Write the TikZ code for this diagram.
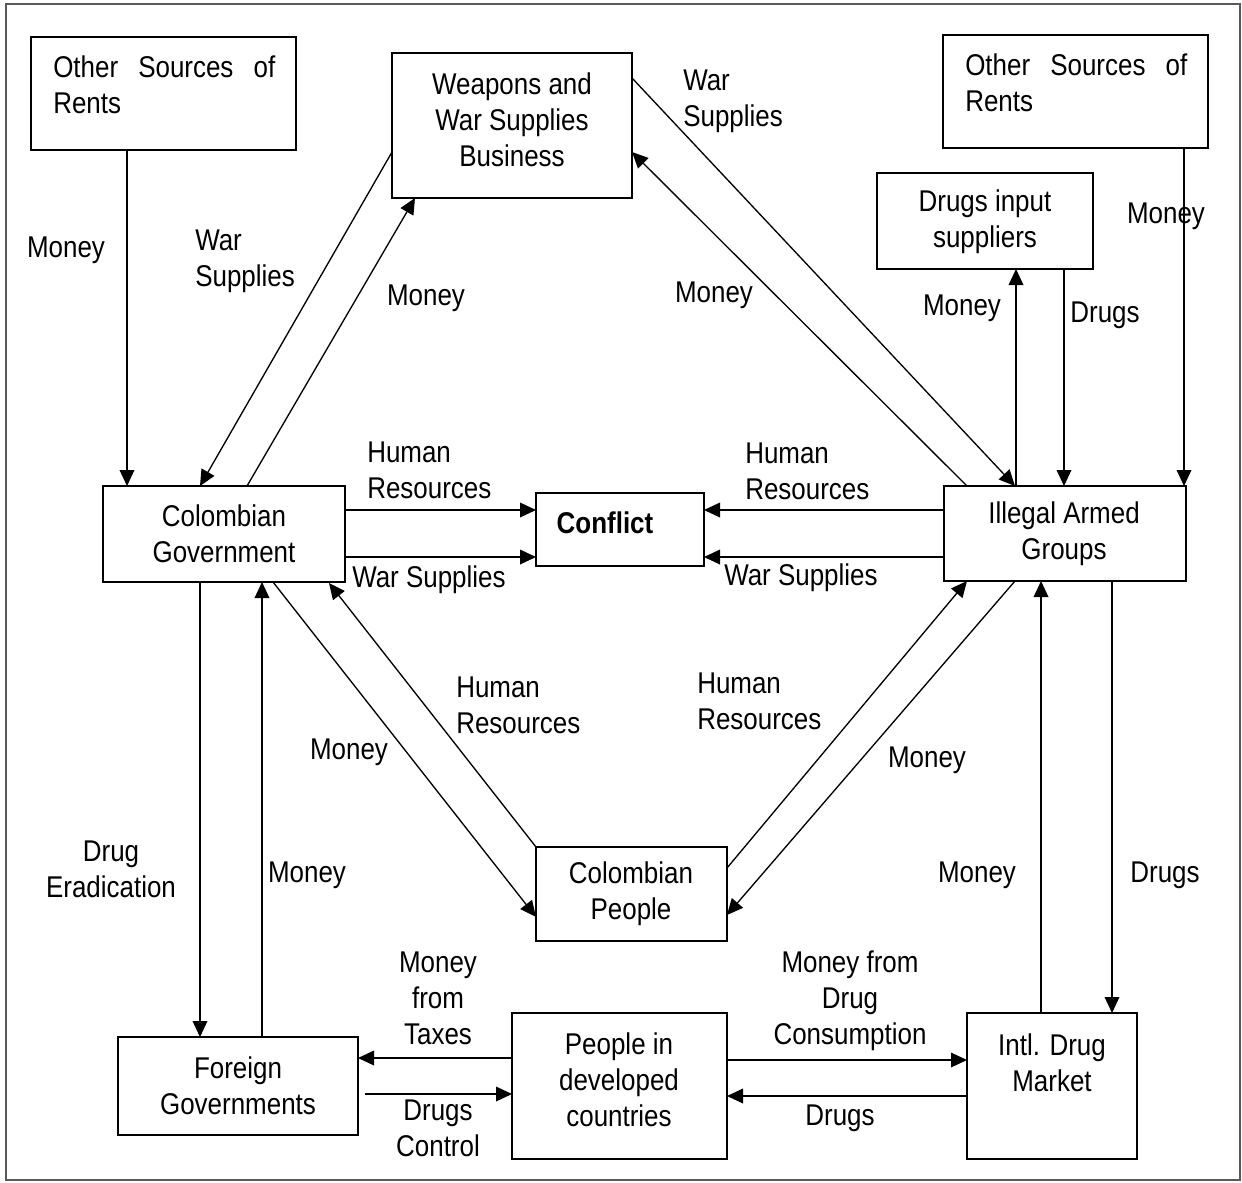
\documentclass[tikz,border=0pt]{standalone}
\usepackage{fontspec}
\setmainfont{Liberation Sans}[FakeStretch=0.865]
\usetikzlibrary{arrows.meta,calc}
\begin{document}
\begin{tikzpicture}[x=0.75pt,y=-0.75pt,
  box/.style args={#1/#2}{draw, line width=1.3pt, minimum width=#1*0.75pt, minimum height=#2*0.75pt, inner sep=0pt, outer sep=0pt},
  lbl/.style={inner sep=0pt, align=center, font=\fontsize{22.5pt}{27pt}\selectfont},
  lbll/.style={lbl, align=left, anchor=west},
  arr/.style={-{Triangle[length=12pt,width=11pt]}, line width=1pt},
  ln/.style={line width=1pt}]
\path[use as bounding box] (0,0) rectangle (1242,1182);
\draw[gray!70!black, line width=1.3pt] (6,4) rectangle (1240,1180);

% boxes
\node[box=265/113] (osl) at (163.5,93.5) {};
\node[box=240/145] (wpn) at (512,125.5) {};
\node[box=265/113] (osr) at (1075.5,91.5) {};
\node[box=216/96] (dis) at (985,221) {};
\node[box=242/96] (cg) at (224,534) {};
\node[box=168/73] (cfl) at (620,529.5) {};
\node[box=242/95] (iag) at (1065,533.5) {};
\node[box=191/94] (cp) at (631.5,894) {};
\node[box=240/98] (fg) at (238,1086) {};
\node[box=215/146] (pdc) at (619.5,1086) {};
\node[box=170/146] (idm) at (1052,1086) {};

% box texts
\node[lbll] (toslt) at (53,85) {\makebox[166.5pt][s]{Other Sources of}\\Rents};
\node[lbl] (twpn) at (512,120) {Weapons and\\War Supplies\\Business};
\node[lbll] (tosrt) at (965,83) {\makebox[166.5pt][s]{Other Sources of}\\Rents};
\node[lbl] (tdis) at (985,222) {Drugs input\\suppliers};
\node[lbl] (tcg) at (224,534) {Colombian\\Government};
\node[lbl] (tcfl) at (605,523) {\bfseries Conflict};
\node[lbl] (tiag) at (1064,534) {Illegal Armed\\Groups};
\node[lbl] (tcp) at (631,894) {Colombian\\People};
\node[lbl] (tfg) at (238,1086) {Foreign\\Governments};
\node[lbl] (tpdc) at (619,1080) {People in\\developed\\countries};
\node[lbl] (tidm) at (1052,1063) {Intl. Drug\\Market};

% connectors
\draw[arr] ($(osl.south west)+(96,0)$) -- ($(cg.north west)+(24,0)$);
\draw[arr] ($(wpn.north west)+(0,99)$) -- ($(cg.north west)+(97,0)$);
\draw[arr] ($(cg.north west)+(144,0)$) -- ($(wpn.south west)+(23,0)$);
\draw[arr] ($(wpn.north east)+(0,25)$) -- ($(iag.north west)+(71,0)$);
\draw[arr] ($(iag.north west)+(23,0)$) -- ($(wpn.north east)+(0,99)$);
\draw[arr] ($(iag.north west)+(72,0)$) -- ($(dis.south west)+(139,0)$);
\draw[arr] ($(dis.south west)+(187,0)$) -- ($(iag.north west)+(120,0)$);
\draw[arr] ($(osr.south west)+(241,0)$) -- ($(iag.north west)+(240,0)$);
\draw[arr] ($(cg.north east)+(0,24)$) -- ($(cfl.north west)+(0,17)$);
\draw[arr] ($(cg.north east)+(0,71)$) -- ($(cfl.north west)+(0,64)$);
\draw[arr] ($(iag.north west)+(0,24)$) -- ($(cfl.north east)+(0,17)$);
\draw[arr] ($(iag.north west)+(0,71)$) -- ($(cfl.north east)+(0,64)$);
\draw[arr] ($(cg.south west)+(97,0)$) -- ($(fg.north west)+(82,0)$);
\draw[arr] ($(fg.north west)+(144,0)$) -- ($(cg.south west)+(159,0)$);
\draw[arr] ($(cg.south west)+(170,0)$) -- ($(cp.north west)+(0,70)$);
\draw[arr] (cp.north west) -- ($(cg.south west)+(226,1)$);
\draw[arr] ($(cp.north east)+(0,21)$) -- ($(iag.south west)+(23,0)$);
\draw[arr] ($(iag.south west)+(71,0)$) -- ($(cp.north east)+(0,68)$);
\draw[arr] ($(idm.north west)+(74,0)$) -- ($(iag.south west)+(97,0)$);
\draw[arr] ($(iag.south west)+(168,0)$) -- ($(idm.north west)+(145,0)$);
\draw[arr] ($(pdc.north west)+(0,45)$) -- ($(fg.north east)+(0,21)$);
\draw[arr] ($(fg.north east)+(7,57)$) -- ($(pdc.north west)+(0,81)$);
\draw[arr] ($(pdc.north east)+(0,47)$) -- ($(idm.north west)+(0,47)$);
\draw[arr] ($(idm.north west)+(0,83)$) -- ($(pdc.north east)+(0,83)$);

% connector labels
\node[lbl] (l1) at (66,250) {Money};
\node[lbll] (l2) at (195,261) {War\\Supplies};
\node[lbl] (l3) at (426,298) {Money};
\node[lbll] (l4) at (683,101) {War\\Supplies};
\node[lbl] (l5) at (714,295) {Money};
\node[lbl] (l6) at (962,308) {Money};
\node[lbl] (l7) at (1105,315) {Drugs};
\node[lbl] (l8) at (1166,216) {Money};
\node[lbll] (l9) at (367,470) {Human\\Resources};
\node[lbll] (l10) at (352,580) {War Supplies};
\node[lbll] (l11) at (745,471) {Human\\Resources};
\node[lbll] (l12) at (724,578) {War Supplies};
\node[lbl] (l13) at (111,869) {Drug\\Eradication};
\node[lbl] (l14) at (307,875) {Money};
\node[lbl] (l15) at (349,752) {Money};
\node[lbll] (l16) at (456,705) {Human\\Resources};
\node[lbll] (l17) at (697,701) {Human\\Resources};
\node[lbl] (l18) at (927,760) {Money};
\node[lbl] (l19) at (977,875) {Money};
\node[lbl] (l20) at (1165,875) {Drugs};
\node[lbl] (l21) at (438,998) {Money\\from\\Taxes};
\node[lbl] (l22) at (438,1128) {Drugs\\Control};
\node[lbl] (l23) at (850,1001) {Money from\\Drug\\Consumption};
\node[lbl] (l24) at (840,1118) {Drugs};
\end{tikzpicture}
\end{document}
